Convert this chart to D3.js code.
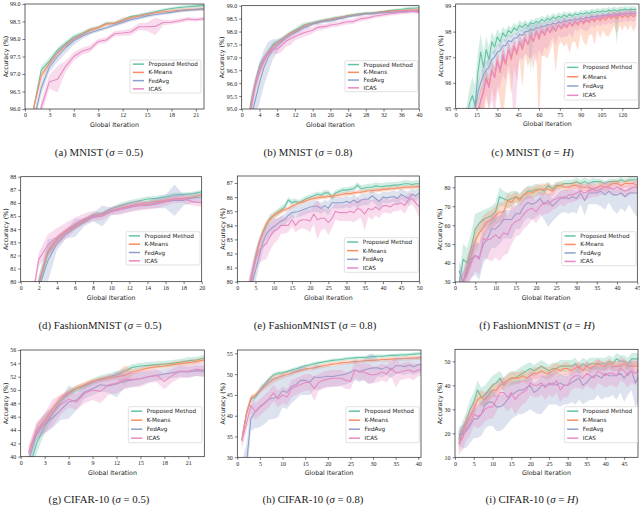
<!DOCTYPE html>
<html><head><meta charset="utf-8">
<script src="https://cdn.jsdelivr.net/npm/d3@7"></script>
<style>body{margin:0;background:#fff}svg{display:block}</style>
</head><body>
<svg id="fig" width="640" height="507"></svg>
<script>
// ---------------- DATA ----------------
const seriesNames = ["Proposed Method","K-Means","FedAvg","ICAS"];
const captionNames = ["(a) MNIST","(b) MNIST","(c) MNIST","(d) FashionMNIST","(e) FashionMNIST","(f) FashionMNIST","(g) CIFAR-10","(h) CIFAR-10","(i) CIFAR-10"];
const captionSigma = ["0.5","0.8","H","0.5","0.8","H","0.5","0.8","H"];

// (a) MNIST 0.5, iterations 1..22
const a_prop=[95.95,97.11,97.37,97.68,97.87,98.06,98.16,98.27,98.33,98.45,98.45,98.54,98.64,98.68,98.73,98.78,98.83,98.87,98.9,98.92,98.94,98.96];
const a_km=[95.95,96.95,97.3,97.6,97.82,98.0,98.12,98.25,98.32,98.42,98.45,98.52,98.6,98.65,98.7,98.75,98.78,98.8,98.82,98.84,98.85,98.86];
const a_fed=[95.6,96.6,97.2,97.5,97.75,97.95,98.08,98.18,98.25,98.32,98.4,98.48,98.55,98.6,98.66,98.7,98.73,98.76,98.8,98.82,98.84,98.86];
const a_icas=[94.6,96.05,96.78,96.85,97.22,97.5,97.65,97.72,97.93,97.97,98.15,98.17,98.2,98.35,98.35,98.36,98.47,98.48,98.52,98.57,98.55,98.58];
const a_prop_sd=[0.1,0.12,0.1,0.08,0.08,0.07,0.06,0.05,0.05,0.05,0.04,0.04,0.04,0.04,0.04,0.04,0.04,0.04,0.05,0.05,0.05,0.05];
const a_km_sd=[0.1,0.1,0.08,0.08,0.06,0.05,0.05,0.08,0.05,0.05,0.05,0.1,0.06,0.04,0.04,0.04,0.04,0.05,0.05,0.05,0.05,0.06];
const a_fed_sd=[0.15,0.2,0.15,0.15,0.15,0.12,0.08,0.06,0.05,0.05,0.05,0.05,0.05,0.05,0.05,0.05,0.04,0.04,0.04,0.04,0.04,0.04];
const a_icas_sd=[0.2,0.2,0.2,0.38,0.15,0.12,0.1,0.1,0.08,0.08,0.08,0.08,0.1,0.1,0.12,0.25,0.08,0.06,0.06,0.06,0.06,0.06];

// (b) MNIST 0.8, iterations 1..40
const b_prop=[93.5,95.2,96.0,96.66,96.96,97.22,97.48,97.6,97.7,97.83,97.95,98.05,98.15,98.25,98.3,98.33,98.38,98.42,98.45,98.48,98.52,98.55,98.58,98.62,98.65,98.68,98.7,98.72,98.72,98.73,98.75,98.77,98.8,98.82,98.84,98.85,98.88,98.9,98.9,98.92];
const b_km=[93.3,94.95,95.85,96.45,96.85,97.15,97.4,97.55,97.65,97.8,97.92,98.0,98.1,98.2,98.27,98.3,98.35,98.4,98.43,98.45,98.5,98.52,98.56,98.6,98.62,98.65,98.67,98.7,98.7,98.72,98.74,98.76,98.78,98.8,98.8,98.8,98.82,98.83,98.83,98.84];
const b_fed=[93.0,94.6,95.3,96.0,96.6,97.0,97.3,97.45,97.6,97.75,97.85,97.95,98.05,98.15,98.2,98.3,98.33,98.38,98.4,98.42,98.45,98.5,98.52,98.57,98.6,98.62,98.65,98.68,98.68,98.7,98.72,98.73,98.74,98.75,98.76,98.76,98.77,98.78,98.78,98.78];
const b_icas=[93.3,95.0,95.9,96.5,96.9,97.15,97.3,97.33,97.45,97.62,97.72,97.8,97.88,97.95,98.0,98.05,98.15,98.18,98.2,98.25,98.27,98.3,98.35,98.38,98.38,98.45,98.5,98.52,98.55,98.6,98.62,98.65,98.68,98.7,98.72,98.75,98.76,98.78,98.78,98.75];
const b_prop_sd=[0.3,0.3,0.2,0.15,0.12,0.1,0.1,0.1,0.1,0.08,0.08,0.08,0.1,0.1,0.08,0.08,0.08,0.07,0.07,0.07,0.07,0.06,0.06,0.06,0.05,0.05,0.05,0.05,0.05,0.05,0.05,0.05,0.05,0.05,0.05,0.06,0.06,0.06,0.06,0.06];
const b_km_sd=[0.3,0.3,0.2,0.15,0.12,0.1,0.1,0.08,0.08,0.08,0.08,0.08,0.07,0.07,0.07,0.07,0.06,0.06,0.06,0.06,0.06,0.06,0.05,0.05,0.05,0.05,0.05,0.05,0.05,0.05,0.05,0.05,0.05,0.05,0.05,0.05,0.05,0.05,0.05,0.05];
const b_fed_sd=[0.5,0.5,0.6,0.8,0.7,0.6,0.4,0.25,0.15,0.12,0.1,0.1,0.1,0.08,0.08,0.08,0.08,0.07,0.07,0.07,0.07,0.06,0.06,0.06,0.06,0.06,0.05,0.05,0.05,0.05,0.05,0.05,0.05,0.05,0.05,0.05,0.05,0.05,0.05,0.05];
const b_icas_sd=[0.3,0.3,0.3,0.25,0.2,0.15,0.15,0.2,0.25,0.2,0.25,0.15,0.15,0.15,0.15,0.12,0.12,0.12,0.1,0.1,0.1,0.1,0.1,0.1,0.1,0.1,0.1,0.08,0.08,0.08,0.08,0.08,0.08,0.08,0.08,0.08,0.08,0.08,0.08,0.08];

// (c) MNIST H, iterations 2,4,...,130
const c_prop=[93,93.8,94.2,94.6,95.2,95.5,95.1,96.4,97.2,96.6, 97.3,96.9,97.6,97.4,97.8,97.6,97.95,97.8,98.05,97.95, 98.15,98.05,98.25,98.15,98.3,98.2,98.35,98.3,98.4,98.35, 98.48,98.4,98.52,98.45,98.58,98.5,98.6,98.55,98.65,98.58, 98.68,98.6,98.7,98.65,98.72,98.68,98.75,98.7,98.78,98.74, 98.8,98.76,98.82,98.78,98.84,98.8,98.86,98.8,98.86,98.84, 98.88,98.84,98.88,98.86,98.88];
const c_km=[92,92.5,93,93.5,94,94.3,94.6,94.9,95.3,95.7, 96.2,95.9,96.5,96.2,96.9,96.4,97.0,96.7,97.3,96.9, 97.4,97.1,97.6,97.3,97.7,97.5,97.8,97.6,98.0,97.7, 98.05,97.85,98.15,97.95,98.2,98.0,98.25,98.1,98.3,98.15, 98.35,98.2,98.4,98.25,98.45,98.3,98.45,98.35,98.5,98.38, 98.55,98.42,98.55,98.45,98.6,98.5,98.62,98.5,98.65,98.55, 98.65,98.55,98.68,98.58,98.65];
const c_fed=[92,92.5,93,93.5,94,94.5,95.0,95.6,96.0,96.3, 96.5,96.6,96.9,97.0,97.2,97.25,97.45,97.45,97.65,97.6, 97.75,97.75,97.9,97.85,98.0,98.0,98.1,98.05,98.15,98.13, 98.22,98.2,98.28,98.25,98.33,98.3,98.38,98.35,98.42,98.4, 98.46,98.44,98.5,98.47,98.53,98.5,98.56,98.54,98.6,98.57, 98.62,98.6,98.65,98.62,98.67,98.64,98.69,98.66,98.7,98.68, 98.72,98.7,98.73,98.71,98.74];
const c_icas=[91,91.5,92,92.5,93,93.5,94,94.7,95.3,95.6, 96.1,95.8,96.5,96.2,96.8,96.5,97.1,96.8,97.3,97.0, 97.45,97.2,97.6,97.4,97.75,97.5,97.85,97.65,97.95,97.8, 98.05,97.9,98.1,98.0,98.2,98.05,98.25,98.15,98.3,98.2, 98.35,98.25,98.4,98.3,98.45,98.35,98.5,98.4,98.55,98.45, 98.58,98.5,98.6,98.55,98.65,98.58,98.68,98.6,98.7,98.65, 98.72,98.66,98.74,98.68,98.74];
const c_prop_sd=[0.5,0.5,0.5,0.5,0.6,0.7,0.8,0.8,0.7,0.6, 0.5,0.5,0.4,0.35,0.3,0.3,0.25,0.25,0.2,0.2, 0.2,0.2,0.2,0.2,0.15,0.15,0.15,0.15,0.15,0.15, 0.15,0.15,0.15,0.15,0.15,0.15,0.15,0.15,0.15,0.15, 0.12,0.12,0.12,0.12,0.12,0.12,0.12,0.12,0.12,0.12, 0.12,0.12,0.12,0.12,0.12,0.12,0.12,0.12,0.12,0.12, 0.12,0.12,0.12,0.12,0.12];
const c_prop_dn=[0.5,0.5,0.5,0.5,0.6,0.7,0.8,0.8,0.7,0.6, 0.5,0.5,0.4,0.35,0.3,0.3,0.25,0.25,0.2,0.2, 0.2,0.2,0.2,0.2,0.2,0.2,2.0,0.2,0.2,0.2, 0.2,0.15,0.15,0.15,0.15,0.15,0.15,0.15,0.15,0.15, 0.12,0.12,0.12,0.12,0.12,0.12,0.12,0.12,0.12,0.12, 0.12,0.12,0.12,0.12,0.12,0.12,0.12,1.3,0.12,0.12, 0.12,0.12,0.12,0.12,0.12];
const c_km_sd=[0.5,0.5,0.5,0.5,0.5,0.5,0.5,0.5,0.5,0.5, 0.4,0.4,0.4,0.4,0.4,0.4,0.4,0.35,0.35,0.35, 0.3,0.3,0.3,0.3,0.3,0.3,0.3,0.3,0.3,0.3, 0.25,0.25,0.25,0.25,0.25,0.25,0.25,0.25,0.25,0.25, 0.2,0.2,0.2,0.2,0.2,0.2,0.2,0.2,0.2,0.2, 0.2,0.2,0.2,0.2,0.2,0.2,0.2,0.2,0.2,0.2, 0.2,0.2,0.2,0.2,0.2];
const c_km_dn=[0.8,0.8,0.8,0.8,0.8,0.8,0.8,0.8,1.0,1.2, 0.8,1.0,0.7,1.0,1.0,1.2,2.5,1.0,0.8,1.4, 0.8,1.0,0.7,1.5,0.6,0.9,0.8,1.1,0.7,3.5, 1.0,0.8,1.2,0.7,0.6,1.6,0.8,0.5,0.9,0.6, 1.2,0.6,0.8,1.0,0.5,0.7,1.0,0.5,0.6,0.9, 0.5,0.7,0.5,0.6,0.8,0.5,0.4,0.6,0.4,0.5, 0.4,0.5,0.4,0.6,0.4];
const c_fed_sd=[0.4,0.4,0.4,0.4,0.4,0.4,0.4,0.4,0.4,0.4, 0.35,0.35,0.3,0.3,0.3,0.3,0.25,0.25,0.25,0.25, 0.2,0.2,0.2,0.2,0.2,0.2,0.2,0.2,0.2,0.2, 0.15,0.15,0.15,0.15,0.15,0.15,0.15,0.15,0.15,0.15, 0.12,0.12,0.12,0.12,0.12,0.12,0.12,0.12,0.12,0.12, 0.1,0.1,0.1,0.1,0.1,0.1,0.1,0.1,0.1,0.1, 0.1,0.1,0.1,0.1,0.1];
const c_fed_dn=[0.4,0.4,0.4,0.4,0.4,0.4,0.4,0.4,0.4,0.4, 0.35,0.5,0.3,0.6,0.3,0.3,0.8,0.25,0.25,0.5, 0.2,0.3,0.2,0.6,0.2,0.2,0.3,0.2,0.2,0.4, 0.15,0.3,0.15,0.15,0.4,0.15,0.15,0.15,0.3,0.15, 0.12,0.12,0.25,0.12,0.12,0.12,0.2,0.12,0.12,0.12, 0.1,0.1,0.1,0.1,0.1,0.1,0.1,0.1,0.1,0.1, 0.1,0.1,0.1,0.1,0.1];
const c_icas_sd=[0.4,0.4,0.4,0.4,0.4,0.4,0.4,0.4,0.4,0.4, 0.35,0.35,0.35,0.35,0.3,0.3,0.3,0.3,0.3,0.3, 0.25,0.25,0.25,0.25,0.25,0.25,0.25,0.25,0.25,0.25, 0.2,0.2,0.2,0.2,0.2,0.2,0.2,0.2,0.2,0.2, 0.15,0.15,0.15,0.15,0.15,0.15,0.15,0.15,0.15,0.15, 0.12,0.12,0.12,0.12,0.12,0.12,0.12,0.12,0.12,0.12, 0.12,0.12,0.12,0.12,0.12];
const c_icas_dn=[0.6,0.6,0.6,0.6,0.6,0.6,0.6,0.6,0.6,0.6, 0.6,0.8,1.2,1.5,1.2,0.6,0.8,0.7,0.6,0.8, 3.5,1.5,0.6,0.5,0.6,0.5,0.9,0.5,1.2,0.5, 1.0,0.5,0.8,0.4,0.4,0.6,0.4,0.4,0.5,0.4, 0.4,0.5,0.3,0.3,0.3,0.3,0.5,0.3,0.3,0.3, 0.3,0.3,0.3,0.3,0.3,0.3,0.3,0.3,0.3,0.3, 0.3,0.3,0.3,0.3,0.3];

// (d) FashionMNIST 0.5, iterations 1..20
const d_prop=[76.5,79.9,82.2,83.2,83.8,84.3,84.7,85.1,85.2,85.55,85.8,86.0,86.15,86.3,86.35,86.45,86.6,86.65,86.7,86.85];
const d_km=[76.5,79.8,82.3,83.2,83.8,84.2,84.6,85.0,85.1,85.4,85.6,85.75,85.9,86.0,86.1,86.2,86.3,86.35,86.45,86.6];
const d_fed=[76.0,79.5,81.6,82.9,83.6,84.1,84.5,84.9,85.0,85.35,85.5,85.65,85.8,85.85,86.0,86.1,86.2,86.2,86.4,86.4];
const d_icas=[77.5,81.7,82.8,83.4,83.9,84.4,84.8,85.0,85.0,85.4,85.5,85.7,85.8,85.8,85.9,86.1,86.3,86.3,86.1,86.0];
const d_prop_sd=[0.5,0.5,0.4,0.3,0.25,0.2,0.2,0.15,0.15,0.15,0.2,0.2,0.2,0.2,0.2,0.2,0.2,0.15,0.15,0.15];
const d_km_sd=[0.5,0.5,0.4,0.3,0.25,0.2,0.2,0.15,0.15,0.15,0.15,0.15,0.15,0.15,0.15,0.15,0.15,0.15,0.15,0.15];
const d_fed_sd=[1.0,1.0,1.6,0.5,0.3,0.7,0.3,0.3,0.8,0.3,0.3,0.3,0.3,0.3,0.4,0.5,1.2,0.4,0.4,0.4];
const d_icas_sd=[0.5,0.5,0.8,0.7,0.6,0.5,0.4,0.4,0.3,0.3,0.4,0.4,0.4,0.3,0.3,0.3,0.3,0.3,0.3,0.3];

// (e) FashionMNIST 0.8, iterations 1..50
const e_prop=[74,76.5,79.3,80.6,81.8,82.8,83.5,84.0,84.5,84.7, 84.9,85.1,85.3,85.8,85.6,85.7,85.6,85.75,85.9,86.0, 86.1,86.2,86.15,86.3,86.3,86.0,86.3,86.4,86.5,86.5, 86.55,86.6,86.85,86.6,86.65,86.7,86.7,86.8,86.75,86.75, 86.8,86.8,86.85,86.85,86.9,86.95,86.95,86.9,86.95,86.95];
const e_km=[74,76.5,79.2,80.3,81.6,82.7,83.5,84.1,84.4,84.7, 84.85,85.0,85.1,85.2,85.35,85.45,85.6,85.65,85.75,85.85, 85.9,85.95,86.0,86.0,86.05,86.05,86.1,86.15,86.2,86.25, 86.25,86.3,86.35,86.35,86.4,86.45,86.45,86.5,86.5,86.55, 86.55,86.6,86.6,86.65,86.65,86.7,86.7,86.72,86.73,86.75];
const e_fed=[73,75.5,78.5,79.8,80.8,81.8,82.8,83.4,83.7,83.9, 84.1,84.3,84.4,84.7,84.9,84.95,85.0,85.1,85.2,85.3, 85.35,85.35,85.2,85.4,85.2,85.6,85.6,85.6,85.6,85.7, 85.6,85.8,85.6,85.8,85.85,85.85,86.1,85.9,85.7,86.0, 85.95,86.0,86.05,85.9,86.2,86.05,85.9,86.2,86.1,86.3];
const e_icas=[74,76.5,79.3,80.5,81.5,82.2,82.5,82.7,83.2,83.6, 83.7,84.0,84.0,84.0,84.4,84.0,84.3,84.4,84.4,84.3, 84.8,84.4,84.5,84.5,84.2,84.5,85.0,84.9,84.9,84.9, 85.0,84.9,85.2,85.1,84.8,85.2,85.1,85.3,85.1,85.4, 85.4,85.3,85.5,85.5,85.6,85.4,85.8,85.9,85.6,85.3];
const e_prop_sd=[0.5,0.5,0.5,0.4,0.35,0.3,0.3,0.3,0.3,0.25, 0.25,0.25,0.25,0.2,0.25,0.2,0.2,0.2,0.2,0.2, 0.2,0.2,0.2,0.2,0.2,0.2,0.2,0.2,0.2,0.2, 0.2,0.2,0.2,0.25,0.25,0.25,0.25,0.25,0.25,0.25, 0.25,0.25,0.25,0.25,0.25,0.25,0.25,0.25,0.25,0.25];
const e_km_sd=[0.5,0.5,0.5,0.4,0.3,0.3,0.25,0.25,0.2,0.2, 0.2,0.2,0.15,0.15,0.15,0.15,0.15,0.15,0.15,0.15, 0.15,0.15,0.15,0.15,0.15,0.15,0.15,0.15,0.15,0.15, 0.15,0.15,0.15,0.15,0.15,0.15,0.15,0.15,0.15,0.15, 0.15,0.15,0.15,0.15,0.15,0.15,0.15,0.15,0.15,0.15];
const e_fed_sd=[0.8,0.8,0.8,0.8,0.8,0.7,0.6,0.5,0.5,0.5, 0.4,0.4,0.4,0.4,0.4,0.4,0.4,0.4,0.4,0.4, 0.4,0.4,0.4,0.4,0.5,0.4,0.4,0.4,0.4,0.4, 0.4,0.4,0.4,0.4,0.4,0.4,0.4,0.4,0.5,0.4, 0.4,0.4,0.4,0.5,0.4,0.4,0.5,0.4,0.4,0.4];
const e_icas_sd=[0.8,0.8,0.8,0.8,0.8,0.9,1.0,1.1,1.0,0.9, 0.8,0.6,0.6,0.5,0.5,0.5,0.6,0.6,0.7,0.8, 0.7,1.4,0.9,0.7,0.9,0.7,0.6,0.6,0.6,0.6, 0.7,0.7,0.8,0.6,1.2,0.6,0.7,0.6,0.6,0.5, 0.5,0.5,0.5,0.5,0.5,0.6,0.5,0.4,0.5,0.8];

// (f) FashionMNIST H, iterations 1..45
const f_prop=[29,42,40,48,58,61,63,64,65,67, 75,74,73,74,75,74,76,78,78,79, 79,78,81,79,81,81,82,82,82,83, 82,83,82,83,83,83,82,83,83,83, 84,83,84,84,84];
const f_km=[28,30,38,44,52,56,59,62,63,65, 67,67,73,72,75,73,76,77,77,78, 79,79,79,78,80,81,80,80,81,81, 80,80,80,79,80,81,80,81,82,82, 81,82,82,82,81];
const f_fed=[36,30,36,42,44,43,50,53,58,58, 60,63,63,63,66,66,70,72,71,72, 74,71,73,70,72,74,75,74,75,74, 77,73,77,77,77,78,76,78,76,76, 77,75,77,77,77];
const f_icas=[25,30,34,40,44,42,53,52,53,55, 53,56,55,60,62,63,66,68,69,67, 70,72,71,73,74,75,74,76,76,77, 78,77,78,79,78,79,80,80,79,80, 79,78,79,80,80];
const f_prop_sd=[3,8,8,8,8,6,5,5,5,5, 5,4,4,4,3,3,3,3,3,3, 2,3,2,2,2,2,2,2,2,2, 2,2,2,2,1.5,1.5,1.5,1.5,1.5,1.5, 1.5,1.5,1.5,1.5,1.5];
const f_km_sd=[3,5,6,6,6,6,6,5,5,5, 5,5,4,4,3,3,3,3,3,3, 3,3,3,3,2,2,2,2,2,2, 2,2,2,2,2,2,2,2,2,2, 2,2,2,2,2];
const f_fed_sd=[5,5,6,7,7,7,6,6,6,6, 5,5,5,5,5,5,4,4,4,4, 4,4,4,4,4,4,4,4,4,4, 3,3,3,3,3,3,3,3,3,3, 3,3,3,3,3];
const f_fed_dn=[6,6,8,10,10,12,10,10,10,10, 10,10,10,10,8,8,8,8,8,8, 8,8,14,8,8,8,8,8,8,8, 6,8,6,6,6,8,8,6,8,10, 8,8,6,10,13];
const f_icas_sd=[4,5,6,8,8,8,10,10,12,12, 12,12,10,10,8,8,8,8,6,6, 6,6,5,5,5,4,4,4,4,4, 4,4,4,4,3,3,3,3,3,3, 3,3,3,3,3];

// (g) CIFAR-10 0.5, iterations 1..23
const g_prop=[38,42,44.5,46.5,48.3,49.5,50.2,50.6,51.2,51.7,52.0,52.3,52.8,53.4,53.6,53.7,53.8,53.9,54.0,54.2,54.4,54.5,54.8];
const g_km=[40.5,44.0,45.5,47.2,48.8,49.6,50.3,50.8,51.3,51.6,51.8,52.0,52.2,52.7,53.0,53.3,53.5,53.6,53.8,54.0,54.1,54.3,54.5];
const g_fed=[39.5,43.5,45.0,45.8,47.0,48.2,48.5,49.7,50.2,50.8,50.6,50.9,51.3,51.5,51.7,52.0,52.2,52.4,52.6,52.8,52.7,52.9,52.8];
const g_icas=[40.7,44.0,45.0,46.6,47.8,48.6,48.2,49.5,50.0,49.8,50.8,51.0,51.6,51.6,51.7,52.0,52.2,51.3,52.2,52.8,52.8,53.1,53.0];
const g_prop_sd=[1.5,1.5,1.0,0.8,0.6,0.5,0.5,0.5,0.5,0.5,0.5,0.5,0.5,0.5,0.5,0.5,0.5,0.5,0.5,0.5,0.5,0.5,0.5];
const g_km_sd=[1.0,1.0,0.8,0.6,0.5,0.5,0.4,0.4,0.4,0.4,0.4,0.4,1.5,0.4,0.4,0.4,0.4,0.4,0.4,0.4,0.4,0.4,0.4];
const g_fed_sd=[1.0,1.2,1.5,1.5,1.5,2.5,1.5,1.0,1.0,1.0,1.0,2.0,1.0,1.0,1.0,0.8,0.8,0.8,0.8,0.8,0.8,0.8,0.8];
const g_icas_sd=[1.0,1.2,1.5,2.0,1.5,1.2,1.2,1.5,1.5,1.8,1.5,1.5,1.5,1.2,1.2,1.0,1.0,1.2,1.0,1.0,1.0,1.0,1.0];

// (h) CIFAR-10 0.8, iterations 1..41
const h_prop=[34.2,40.5,44.0,44.5,46.0,47.5,48.8,49.8,50.2,50.3, 50.6,51.0,51.3,51.6,52.0,52.2,52.5,52.7,52.9,53.1, 53.3,53.4,53.5,53.7,53.8,53.9,54.0,54.0,54.1,54.2, 54.3,54.3,54.4,54.5,54.5,54.6,54.6,54.7,54.8,54.9, 55.0];
const h_km=[34.0,40.3,44.2,45.0,46.0,47.0,48.0,48.8,49.2,49.6, 49.9,50.2,50.6,50.9,51.2,51.4,51.5,51.8,52.0,52.2, 52.4,52.5,52.7,52.8,52.9,53.0,53.1,53.2,53.3,53.3, 53.4,53.5,53.5,53.6,53.7,53.7,53.8,53.8,53.9,53.9, 54.0];
const h_fed=[25,28,39.3,41.0,42.2,43.0,44.0,44.2,44.6,46.0, 45.6,47.0,47.5,48.5,48.5,48.0,49.3,49.2,49.3,49.5, 49.4,49.6,49.8,50.0,50.5,51.0,50.6,51.0,51.3,51.5, 51.5,51.2,51.8,51.0,52.0,52.0,51.8,52.2,51.8,52.3, 52.2];
const h_icas=[34.0,38.0,42.5,41.0,42.0,43.0,44.0,45.5,44.0,45.0, 44.5,46.5,47.0,47.5,48.0,48.0,46.5,48.0,48.5,48.8, 49.0,49.0,49.0,48.5,48.3,51.0,50.5,50.5,50.0,49.8, 50.0,50.5,50.0,51.5,50.3,50.5,50.8,51.0,50.5,51.0, 51.0];
const h_prop_sd=[1.0,1.0,0.8,0.6,0.5,0.5,0.5,0.5,0.5,0.5, 0.4,0.4,0.4,0.4,0.4,0.4,0.4,0.4,0.4,0.4, 0.4,0.4,0.4,0.4,0.4,0.4,0.4,0.4,0.4,0.4, 0.4,0.4,0.4,0.4,0.4,0.4,0.4,0.4,0.4,0.4, 0.4];
const h_km_sd=[1.0,1.0,0.8,0.6,0.6,0.8,1.0,1.0,0.8,0.8, 0.6,0.6,0.5,0.5,0.5,0.5,0.5,0.5,0.5,0.5, 0.5,0.5,0.5,0.5,0.5,0.5,0.5,0.5,0.5,0.5, 0.5,0.5,0.5,0.5,0.5,0.5,0.5,0.5,0.5,0.5, 0.5];
const h_fed_sd=[4,5,3,4,5,5,5,5,5,4, 4,4,3.5,3.5,3.5,3,3,3,2.5,2.5, 2.5,2.5,2.5,2.5,2.5,2.5,2.5,2.5,3.5,3.5, 2,2,2,2,2,2,2,2,2,2, 2];
const h_icas_sd=[2,2,2,2,2,2,2,2,2,2, 2,2,2,2,2,2,3,2,2,2, 2,2,2,2,2,2,2,2,2.5,2, 2,2,2,2,3.5,2,2,2,2,1.5, 1.5];

// (i) CIFAR-10 H, iterations 1..49
const i_prop=[17.5,22,25,30,33,38,35,36,38,40, 41,43,40,42,43,43,44,45,46,47, 46,47,48,47,46,47,47,48,48,48, 48,49,47,49,48,49,49,49,49,49, 50,49,51,50,50,49,51,51,51];
const i_km=[15.5,20,24,27,30,34,35,34,36,38, 38,40,41,42,43,43,43,44,43,44, 45,45,46,45,45,46,47,46,47,47, 46,47,48,46,48,47,48,49,48,48, 49,48,48,48,49,48,48,48,48];
const i_fed=[19.5,19.5,21,23,26,26,28,32,33,33, 31,31,32,34,36,37,38,38,39,40, 37,38,40,40,40,41,40,41,40,40, 41,42,43,40,41,43,44,44,43,45, 44,44,44,45,43,45,46,41,44];
const i_icas=[16,18,22,24,28,27,28,30,31,31, 34,37,37,35,37,34,36,37,38,41, 40,40,41,39,41,40,42,38,40,40, 43,44,44,43,45,44,43,46,45,44, 45,45,44,47,46,44,46,45,47];
const i_prop_sd=[3,3,4,4,4,4,4,4,4,4, 4,3,3,3,3,3,3,3,3,2.5, 2.5,2.5,2.5,2.5,2.5,2.5,2.5,2.5,2.5,2.5, 2.5,2.5,2.5,2.5,2.5,2.5,2.5,2.5,2.5,2.5, 2.5,2.5,2.5,2.5,2.5,2.5,2.5,2.5,2.5];
const i_km_sd=[3,3,3,3,3,3,3,3,3,3, 3,2.5,2.5,2.5,2.5,2.5,2.5,2.5,2.5,2.5, 2.5,2.5,2.5,2.5,2.5,2.5,2.5,2.5,2.5,2.5, 2,2,2,2,2,2,2,2,2,2, 2,2,2,2,2,2,2,2,2];
const i_fed_sd=[3,4,4,4,4,5,5,5,5,5, 5,5,5,5,5,5,4,4,4,4, 4,4,4,4,4,4,4,4,4,4, 4,4,4,4,4,4,4,4,4,4, 4,4,4,4,4,4,4,4,4];
const i_fed_dn=[4,6,7,7,8,8,9,10,10,10, 10,10,10,10,10,10,10,10,10,10, 8,10,12,10,8,9,8,10,8,8, 8,10,9,8,8,9,10,8,9,10, 9,8,10,8,10,9,8,10,10];
const i_icas_sd=[5,5,5,5,5,5,5,5,5,5, 5,5,6,6,6,6,6,5,5,5, 5,5,5,5,5,5,5,5,5,5, 5,5,5,5,5,5,5,5,5,5, 5,5,5,5,5,5,5,5,5];

// tick labels
const a_xticks=[0,3,6,9,12,15,18,21], a_yticks=[96.0,96.5,97.0,97.5,98.0,98.5,99.0];
const b_xticks=[0,4,8,12,16,20,24,28,32,36,40], b_yticks=[95.0,95.5,96.0,96.5,97.0,97.5,98.0,98.5,99.0];
const c_xticks=[0,15,30,45,60,75,90,105,120], c_yticks=[95,96,97,98,99];
const d_xticks=[0,2,4,6,8,10,12,14,16,18,20], d_yticks=[80,81,82,83,84,85,86,87,88];
const e_xticks=[0,5,10,15,20,25,30,35,40,45,50], e_yticks=[80,81,82,83,84,85,86,87];
const f_xticks=[0,5,10,15,20,25,30,35,40,45], f_yticks=[30,40,50,60,70,80];
const g_xticks=[0,3,6,9,12,15,18,21], g_yticks=[40,42,44,46,48,50,52,54,56];
const h_xticks=[0,5,10,15,20,25,30,35,40], h_yticks=[30,35,40,45,50,55];
const i_xticks=[0,5,10,15,20,25,30,35,40,45], i_yticks=[10,20,30,40,50];

// ---------------- LAYOUT / STYLE ----------------
const colors=["#66c2a5","#fc8d62","#8da0cb","#e78ac3"];
const iters=(start,step,n)=>d3.range(n).map(i=>start+i*step);
const panels=[
 {id:"a",x0:1,dx:1,s:[[a_prop,a_prop_sd],[a_km,a_km_sd],[a_fed,a_fed_sd],[a_icas,a_icas_sd]],L:25,T:4,R:204,B:109,xd:[0,22],yd:[96,99],xt:a_xticks,yt:a_yticks,yf:".1f",leg:[130,60,201,93],cap:[99,155.5]},
 {id:"b",x0:1,dx:1,s:[[b_prop,b_prop_sd],[b_km,b_km_sd],[b_fed,b_fed_sd],[b_icas,b_icas_sd]],L:241.7,T:5.7,R:419,B:109,xd:[0,40],yd:[95,99],xt:b_xticks,yt:b_yticks,yf:".1f",leg:[345,60.7,417.7,91.7],cap:[308,155.5]},
 {id:"c",x0:2,dx:2,s:[[c_prop,c_prop_sd,c_prop_dn],[c_km,c_km_sd,c_km_dn],[c_fed,c_fed_sd,c_fed_dn],[c_icas,c_icas_sd,c_icas_dn]],L:455.7,T:4,R:639,B:108.3,xd:[0,132],yd:[95,99.08],xt:c_xticks,yt:c_yticks,yf:"d",leg:[564.3,62.7,638,100],cap:[532.5,155.5]},
 {id:"d",x0:1,dx:1,s:[[d_prop,d_prop_sd],[d_km,d_km_sd],[d_fed,d_fed_sd],[d_icas,d_icas_sd]],L:20.7,T:176.7,R:201.7,B:281.7,xd:[0,20],yd:[80,88],xt:d_xticks,yt:d_yticks,yf:"d",leg:[126,231.7,200,265],cap:[100,329]},
 {id:"e",x0:1,dx:1,s:[[e_prop,e_prop_sd],[e_km,e_km_sd],[e_fed,e_fed_sd],[e_icas,e_icas_sd]],L:237.3,T:176,R:419.3,B:281.7,xd:[0,50],yd:[80,87.5],xt:e_xticks,yt:e_yticks,yf:"d",leg:[344.3,237.7,418.3,272.3],cap:[315,329]},
 {id:"f",x0:1,dx:1,s:[[f_prop,f_prop_sd],[f_km,f_km_sd],[f_fed,f_fed_sd,f_fed_dn],[f_icas,f_icas_sd]],L:455,T:176.7,R:637.3,B:282,xd:[0,45],yd:[30,85.6],xt:f_xticks,yt:f_yticks,yf:"d",leg:[561.7,231.7,636,265.7],cap:[537,329]},
 {id:"g",x0:1,dx:1,s:[[g_prop,g_prop_sd],[g_km,g_km_sd],[g_fed,g_fed_sd],[g_icas,g_icas_sd]],L:20.7,T:350,R:204.3,B:456.7,xd:[0,23],yd:[40,56],xt:g_xticks,yt:g_yticks,yf:"d",leg:[128.3,406.7,202,442.7],cap:[99,502.5]},
 {id:"h",x0:1,dx:1,s:[[h_prop,h_prop_sd],[h_km,h_km_sd],[h_fed,h_fed_sd],[h_icas,h_icas_sd]],L:237.3,T:350,R:421,B:457.3,xd:[0,40.6],yd:[30,55.8],xt:h_xticks,yt:h_yticks,yf:"d",leg:[346,406.7,419.3,442.7],cap:[313,502.5]},
 {id:"i",x0:1,dx:1,s:[[i_prop,i_prop_sd],[i_km,i_km_sd],[i_fed,i_fed_sd,i_fed_dn],[i_icas,i_icas_sd]],L:455,T:349.3,R:638,B:457.3,xd:[0,48.7],yd:[10,55],xt:i_xticks,yt:i_yticks,yf:"d",leg:[564.3,406.7,637.7,442.7],cap:[532,502.5]}
];

const svg=d3.select("#fig");
const defs=svg.append("defs");
const TICKFONT="'Liberation Serif','Times New Roman',serif";
const SANS="'DejaVu Sans',sans-serif";

panels.forEach((p,pi)=>{
  const x=d3.scaleLinear().domain(p.xd).range([p.L,p.R]);
  const y=d3.scaleLinear().domain(p.yd).range([p.B,p.T]);
  defs.append("clipPath").attr("id","clip"+p.id).append("rect")
    .attr("x",p.L).attr("y",p.T).attr("width",p.R-p.L).attr("height",p.B-p.T);
  const g=svg.append("g");
  const plot=g.append("g").attr("clip-path",`url(#clip${p.id})`);
  p.s.forEach((s,k)=>{
    const vals=s[0], up=s[1], dn=s[2]||s[1];
    const xs=iters(p.x0,p.dx,vals.length);
    const pts=vals.map((v,i)=>({x:xs[i],v,lo:v-dn[i],hi:v+up[i]}));
    plot.append("path").datum(pts)
      .attr("d",d3.area().x(d=>x(d.x)).y0(d=>y(d.lo)).y1(d=>y(d.hi)))
      .attr("fill",colors[k]).attr("fill-opacity",0.3).attr("stroke","none");
    plot.append("path").datum(pts)
      .attr("d",d3.line().x(d=>x(d.x)).y(d=>y(d.v)))
      .attr("fill","none").attr("stroke",colors[k]).attr("stroke-width",1.1).attr("stroke-linejoin","round");
  });
  const xa=g.append("g").attr("transform",`translate(0,${p.B})`)
    .call(d3.axisBottom(x).tickValues(p.xt).tickSize(2.5).tickPadding(1.5).tickFormat(d3.format("d")));
  const ya=g.append("g").attr("transform",`translate(${p.L},0)`)
    .call(d3.axisLeft(y).tickValues(p.yt).tickSize(2.5).tickPadding(2).tickFormat(d3.format(p.yf)));
  [xa,ya].forEach(a=>{
    a.select(".domain").remove();
    a.selectAll(".tick line").attr("stroke","#222").attr("stroke-width",0.6);
    a.selectAll(".tick text").attr("fill","#222").style("font-family",TICKFONT).style("font-size","6px");
  });
  g.append("rect").attr("x",p.L).attr("y",p.T).attr("width",p.R-p.L).attr("height",p.B-p.T)
    .attr("fill","none").attr("stroke","#222").attr("stroke-width",0.7);
  let minX=p.L;
  ya.selectAll(".tick text").each(function(){const b=this.getBBox();minX=Math.min(minX,p.L+b.x);});
  g.append("text").attr("x",(p.L+p.R)/2).attr("y",p.B+18).attr("text-anchor","middle")
    .style("font-family",SANS).style("font-size","6.3px").attr("fill","#222").text("Global Iteration");
  g.append("text").attr("transform",`translate(${minX-2.3},${(p.T+p.B)/2}) rotate(-90)`).attr("text-anchor","middle")
    .style("font-family",SANS).style("font-size","6.3px").attr("fill","#222").text("Accuracy (%)");
  const [lx0,ly0,lx1,ly1]=p.leg, lh=ly1-ly0;
  const lg=g.append("g");
  lg.append("rect").attr("x",lx0).attr("y",ly0).attr("width",lx1-lx0).attr("height",lh).attr("rx",1.2)
    .attr("fill","#fff").attr("fill-opacity",0.85).attr("stroke","#cccccc").attr("stroke-width",0.6);
  seriesNames.forEach((nm,k)=>{
    const cy=ly0+lh*0.125+k*lh*0.25;
    lg.append("line").attr("x1",lx0+2.8).attr("x2",lx0+14).attr("y1",cy).attr("y2",cy)
      .attr("stroke",colors[k]).attr("stroke-width",1.5);
    lg.append("text").attr("x",lx0+18.5).attr("y",cy+2).style("font-family",SANS).style("font-size","5.7px")
      .attr("fill","#222").text(nm);
  });
  const cap=svg.append("text").attr("x",p.cap[0]).attr("y",p.cap[1]).attr("text-anchor","middle")
    .style("font-family",TICKFONT).style("font-size","10.8px").attr("fill","#222");
  cap.append("tspan").text(captionNames[pi]+" (");
  cap.append("tspan").style("font-style","italic").text("σ");
  cap.append("tspan").text(" = ");
  const sg=captionSigma[pi];
  cap.append("tspan").style("font-style",sg==="H"?"italic":"normal").text(sg);
  cap.append("tspan").text(")");
});
</script>
</body></html>
